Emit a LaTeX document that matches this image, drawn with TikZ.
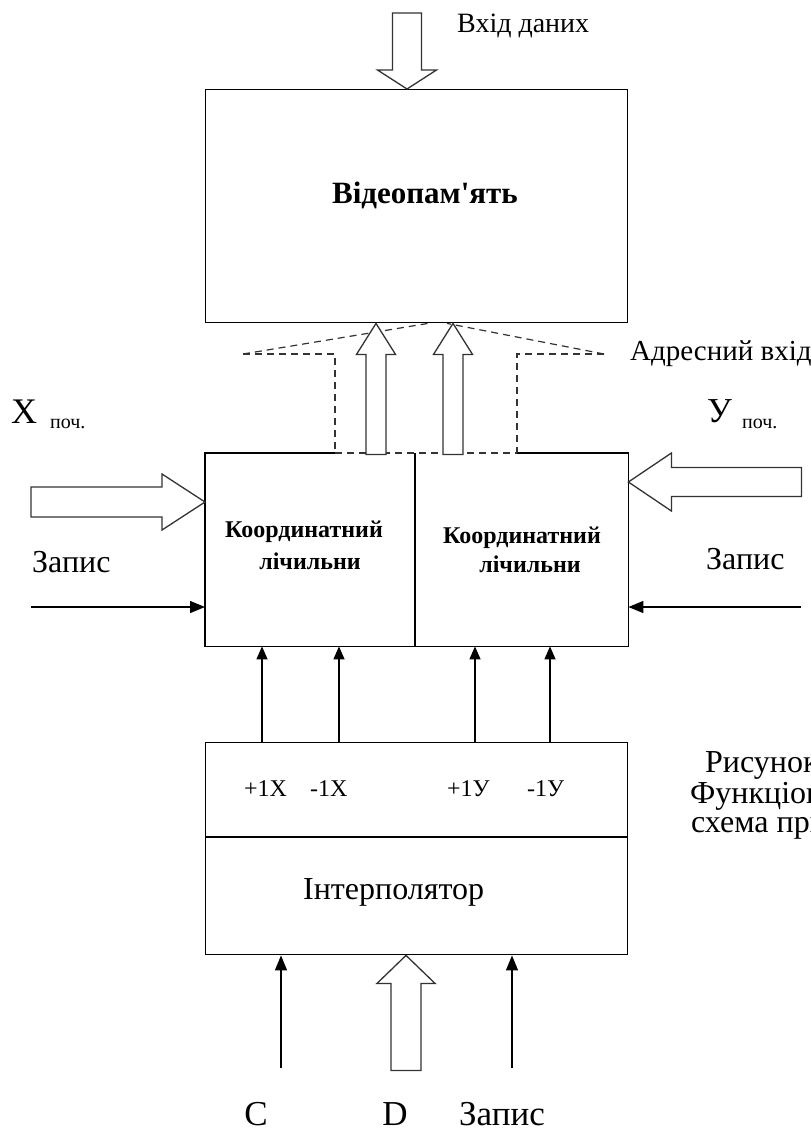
\documentclass[tikz,border=0pt]{standalone}
\usepackage{fontspec}
\setmainfont{Liberation Serif}
\usetikzlibrary{arrows.meta}
\newcommand\myfs[1]{\fontsize{#1}{#1}\selectfont}
\newcommand\straightapos{\XeTeXglyph\numexpr\XeTeXcharglyph"27\relax\relax}
% tip, angle, length, shaft width, head width, head length
\newcommand\hollowarr[6]{%
  \begin{scope}[shift={#1},rotate=#2]
    \draw[hollowline] (0,0) -- (-#6,#5/2) -- (-#6,#4/2) -- (-#3,#4/2) -- (-#3,-#4/2) -- (-#6,-#4/2) -- (-#6,-#5/2) -- cycle;
  \end{scope}}
\begin{document}
\begin{tikzpicture}[x=1pt,y=-1pt,
  boxline/.style={line width=1.4pt, draw=black},
  box/.style={boxline, inner sep=0pt, anchor=north west},
  hollowline/.style={line width=1.3pt, draw=black!80, fill=white, line join=miter},
  dashln/.style={line width=1.2pt, draw=black!80, dash pattern=on 7pt off 5pt},
  conn/.style={line width=1.3pt, -{Triangle[length=15pt,width=12pt]}},
  txt/.style={inner sep=0pt, anchor=base west},
  txtc/.style={inner sep=0pt, anchor=base}]
\useasboundingbox (0,0) rectangle (811,1133);
\begin{scope}
\clip (0,0) rectangle (811,1133);

% ---------- boxes ----------
\node[box, minimum width=422pt, minimum height=233pt] (mem) at (205,89) {};
\node[inner sep=0pt, anchor=north west, minimum width=423pt, minimum height=193pt] (cnt) at (205,453) {};
\node[box, minimum width=422pt, minimum height=212pt] (interp) at (205,742) {};

\draw[boxline] (335,0 |- cnt.north) -- (cnt.north west) -- (cnt.south west) -- (cnt.south east) -- (cnt.north east) -- (517,0 |- cnt.north);
\draw[boxline] (415,0 |- cnt.north) -- (415,0 |- cnt.south);
\draw[boxline] (interp.west |- 0,837) -- (interp.east |- 0,837);

% ---------- texts ----------
\node[txtc, font=\bfseries\myfs{31}] (memt) at (425,203) {Відеопам\straightapos ять};
\node[txt, font=\myfs{28}] (vhid) at (457,32) {Вхід даних};
\node[txt, font=\myfs{29}] (adr) at (630,360) {Адресний вхід};
\node[txt, font=\myfs{36}] (xl) at (11,423) {X};
\node[txt, font=\myfs{20}] (xs) at (50,428) {поч.};
\node[txt, font=\myfs{35}] (yl) at (707,422) {У};
\node[txt, font=\myfs{20}] (ys) at (742,428) {поч.};
\node[txt, font=\myfs{32}] (zl) at (32,572) {Запис};
\node[txt, font=\myfs{32}] (zr) at (706,569) {Запис};
\node[txtc, font=\bfseries\myfs{24}] (k1a) at (304,537) {Координатний};
\node[txtc, font=\bfseries\myfs{24}] (k1b) at (310,569) {лічильни};
\node[txtc, font=\bfseries\myfs{24}] (k2a) at (522,543) {Координатний};
\node[txtc, font=\bfseries\myfs{24}] (k2b) at (530,572) {лічильни};
\node[txt, font=\myfs{24}] (p1x) at (244,796) {+1X};
\node[txt, font=\myfs{24}] (m1x) at (310,796) {-1X};
\node[txt, font=\myfs{24}] (p1y) at (447,796) {+1У};
\node[txt, font=\myfs{24}] (m1y) at (527,796) {-1У};
\node[txt, font=\myfs{32}] (intt) at (303,899) {Інтерполятор};
\node[txtc, font=\myfs{35}] (lc) at (256,1125) {C};
\node[txtc, font=\myfs{35}] (ld) at (395,1125) {D};
\node[txtc, font=\myfs{35}] (lz) at (502,1125) {Запис};
\node[txt, font=\myfs{32}] (cap1) at (705,772) {Рисунок};
\node[txt, font=\myfs{32}] (cap2) at (690,803) {Функціональна};
\node[txt, font=\myfs{32}] (cap3) at (691,832) {схема пристрою};

% ---------- dashed address lines ----------
\coordinate (dl) at (243,354);
\coordinate (dr) at (604,354);
\draw[dashln] (dl) -- (428,0 |- mem.south);
\draw[dashln] (dr) -- (447,0 |- mem.south);
\draw[dashln] (dl) -- (335,354) -- (335,0 |- cnt.north);
\draw[dashln] (dr) -- (517,354) -- (517,0 |- cnt.north);
\draw[dashln] (335,0 |- cnt.north) -- (517,0 |- cnt.north);

% ---------- hollow (bus) arrows ----------
\hollowarr{(407,0 |- mem.north)}{-90}{76}{29}{59}{19}
\hollowarr{(376,0 |- mem.south)}{90}{131}{20}{39}{31}
\hollowarr{(453,0 |- mem.south)}{90}{131}{20}{39}{31}
\hollowarr{(cnt.west |- 0,502)}{0}{174}{30}{56}{43}
\hollowarr{(cnt.east |- 0,482)}{180}{173}{29}{58}{43}
\hollowarr{(406,0 |- interp.south)}{90}{115}{30}{58}{28}

% ---------- thin arrows ----------
\coordinate (wl) at (31,607);
\coordinate (wr) at (801,607);
\draw[conn] (wl) -- (wl -| cnt.west);
\draw[conn] (wr) -- (wr -| cnt.east);
\foreach \xx in {262,339,475,550}
  \draw[conn, -{Triangle[length=13pt,width=11pt]}] (\xx,0 |- interp.north) -- (\xx,0 |- cnt.south);
\coordinate (bc) at (281,1068);
\coordinate (bz) at (512,1068);
\draw[conn] (bc) -- (bc |- interp.south);
\draw[conn] (bz) -- (bz |- interp.south);
\end{scope}
\end{tikzpicture}
\end{document}
